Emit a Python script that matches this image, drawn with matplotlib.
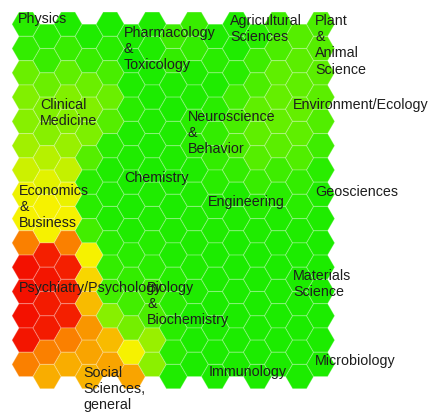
import numpy as np
import matplotlib
matplotlib.use("Agg")
import matplotlib.pyplot as plt
from matplotlib.patches import RegularPolygon
from matplotlib.colors import LinearSegmentedColormap

# ---- data: SOM cell values per column (row 0 at top), 0 = red, 0.5 = yellow, 1 = green
som_columns = [
    [0.95, 0.93, 0.82, 0.77, 0.76, 0.70, 0.60, 0.52, 0.50, 0.25, 0.02, 0.02, 0.02, 0.03, 0.25],
    [0.95, 0.92, 0.82, 0.77, 0.76, 0.65, 0.55, 0.50, 0.50, 0.05, 0.03, 0.04, 0.04, 0.25, 0.35],
    [0.97, 0.92, 0.84, 0.77, 0.76, 0.72, 0.62, 0.53, 0.50, 0.25, 0.05, 0.06, 0.05, 0.25, 0.35],
    [0.97, 0.92, 0.82, 0.77, 0.78, 0.86, 0.95, 0.95, 0.90, 0.50, 0.44, 0.38, 0.30, 0.33, 0.36],
    [0.98, 0.95, 0.89, 0.82, 0.86, 0.95, 0.97, 0.97, 0.97, 0.95, 0.93, 0.90, 0.76, 0.38, 0.33],
    [0.98, 1.00, 0.97, 0.95, 0.97, 0.97, 0.98, 0.98, 0.97, 0.95, 0.93, 0.90, 0.80, 0.50, 0.33],
    [0.97, 0.97, 0.98, 0.98, 0.97, 0.98, 0.98, 0.97, 0.97, 0.96, 0.95, 0.90, 0.88, 0.72, 0.75],
    [0.91, 0.93, 0.97, 0.98, 0.97, 0.97, 0.98, 0.98, 0.97, 0.97, 0.96, 0.95, 0.95, 0.95, 0.97],
    [0.92, 0.93, 0.97, 0.97, 0.95, 0.95, 0.97, 0.97, 0.97, 0.97, 0.97, 0.97, 0.98, 0.98, 0.98],
    [0.97, 0.95, 0.97, 0.95, 0.93, 0.93, 0.95, 0.97, 0.97, 0.98, 0.98, 0.98, 0.98, 0.98, 0.98],
    [0.97, 0.97, 0.95, 0.90, 0.89, 0.88, 0.93, 0.97, 0.97, 0.98, 0.98, 0.98, 0.98, 0.98, 0.98],
    [0.95, 0.91, 0.88, 0.84, 0.84, 0.86, 0.92, 0.96, 0.97, 0.98, 0.98, 0.98, 0.98, 0.98, 0.98],
    [0.91, 0.88, 0.84, 0.83, 0.83, 0.85, 0.91, 0.95, 0.97, 0.98, 0.98, 0.98, 0.98, 0.98, 0.98],
    [0.86, 0.85, 0.84, 0.83, 0.84, 0.87, 0.93, 0.95, 0.97, 0.98, 0.98, 0.98, 0.98, 0.98, 0.98],
    [0.88, 0.86, 0.85, 0.85, 0.87, 0.91, 0.95, 0.97, 0.97, 0.98, 0.98, 0.98, 0.98, 0.98, 0.98],
]

label_texts = [
    "Physics", "Pharmacology\n&\nToxicology", "Agricultural\nSciences",
    "Plant\n&\nAnimal\nScience", "Clinical\nMedicine", "Neuroscience\n&\nBehavior",
    "Environment/Ecology", "Chemistry", "Economics\n&\nBusiness", "Engineering",
    "Geosciences", "Materials\nScience", "Psychiatry/Psychology",
    "Biology\n&\nBiochemistry", "Social\nSciences,\ngeneral", "Immunology",
    "Microbiology",
]
# label anchor positions (left, top) in pixels
label_px = [
    (18, 12), (124, 26), (230, 14), (315, 14), (40, 98), (188, 110),
    (293, 98), (124, 171), (19, 184), (208, 195), (315, 185), (293, 269),
    (19, 281), (147, 281), (83, 366), (209, 365), (315, 354),
]

# ---- figure
W, H = 438, 415
fig = plt.figure(figsize=(W / 100, H / 100), dpi=100)
ax = fig.add_axes([0, 0, 1, 1])
ax.set_axis_off()

s = 14.03          # hex radius in pixels
x0_px, y0_px = 26.0, 24.2   # pixel centre of cell (col 0, row 0)
ax.set_xlim(-x0_px / s, (W - x0_px) / s)
ax.set_ylim((H - y0_px) / s, -y0_px / s)

cmap = LinearSegmentedColormap.from_list(
    "ryg", [(0.0, "#f20800"), (0.25, "#fa8000"), (0.5, "#f7f200"),
            (0.75, "#8cf000"), (1.0, "#12ec00")])

sq3 = np.sqrt(3)
for c, col in enumerate(som_columns):
    for r, v in enumerate(col):
        cx = 1.5 * c
        cy = sq3 * (r + 0.5 * (c % 2))
        hexp = RegularPolygon((cx, cy), numVertices=6, radius=1.0,
                              orientation=np.pi / 6, facecolor=cmap(v),
                              edgecolor=(1, 1, 1, 0.22), linewidth=0.8)
        ax.add_patch(hexp)

for txt, (lx, ly) in zip(label_texts, label_px):
    ax.text((lx - x0_px) / s, (ly - y0_px) / s, txt, ha="left", va="top",
            fontsize=10.3, family=["Liberation Sans", "DejaVu Sans"],
            color="#1e1e1e", linespacing=1.2)

fig.savefig("out.png", dpi=100)
